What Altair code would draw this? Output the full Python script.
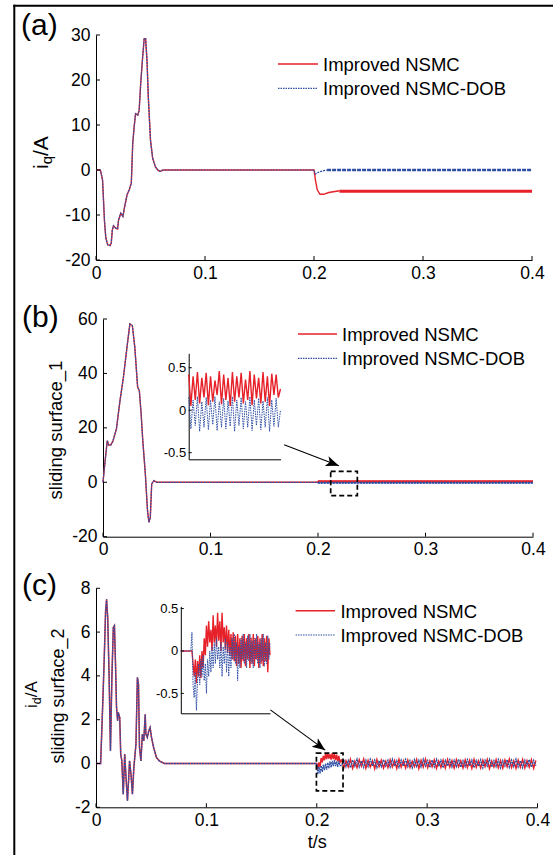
import altair as alt
import pandas as pd

W, H = 553, 855
RED = "#e62129"
BLUE = "#2f4fa5"
FONT = "Liberation Sans"

# ---------------- tick values / labels ----------------
X_TICKS = [0, 0.1, 0.2, 0.3, 0.4]
A_Y_TICKS = [-20, -10, 0, 10, 20, 30]
B_Y_TICKS = [-20, 0, 20, 40, 60]
C_Y_TICKS = [-2, 0, 2, 4, 6, 8]
INSET_TICKS = [-0.5, 0, 0.5]
LEGEND_LABELS = ["Improved NSMC", "Improved NSMC-DOB"]
PANEL_LABELS = ["(a)", "(b)", "(c)"]
X_TITLE = "t/s"
B_Y_TITLE = "sliding surface_1"
C_Y_TITLE = "sliding surface_2"

# ---------------- panel (a): i_q ----------------
A_T = [0, 0.004, 0.006, 0.0078, 0.009, 0.0107, 0.013, 0.014, 0.015, 0.016,
       0.018, 0.0198, 0.0207, 0.0227, 0.0247, 0.026, 0.0285, 0.0305, 0.0324, 0.0337,
       0.035, 0.0363, 0.0383, 0.0396, 0.041, 0.0428, 0.0442, 0.0455, 0.0468, 0.048,
       0.05, 0.052, 0.0545, 0.057, 0.059, 0.0615, 0.2]
A_V = [0, 0, -2.2, -11.4, -15.1, -16.6, -16.8, -16.2, -13.3, -12.4,
       -12.9, -13.1, -11.1, -9.6, -10.3, -8.5, -5.5, -4.4, -2.9, 5.9,
       9.6, 12.5, 12.2, 13.3, 19.2, 25.1, 29.2, 29.2, 24.3, 16.2,
       6.6, 2.6, 0.7, -0.1, -0.3, 0, 0]
A_RED_POST_T = [0.2, 0.2013, 0.203, 0.2055, 0.2087, 0.2136, 0.2233]
A_RED_POST_V = [0, -2.2, -4.4, -5.4, -5.4, -5.0, -4.6]
A_RED_STEADY_T = [0.2233, 0.4]
A_RED_STEADY_V = [-4.7, -4.7]
A_BLUE_POST_T = [0.2, 0.2013, 0.204, 0.208, 0.212]
A_BLUE_POST_V = [0, -0.9, -0.5, -0.2, 0]
A_BLUE_STEADY_T = [0.212, 0.4]
A_BLUE_STEADY_V = [0, 0]

# ---------------- panel (b): sliding surface 1 ----------------
B_T = [0, 0.002, 0.004, 0.0053, 0.0072, 0.0092, 0.0125, 0.0158, 0.019, 0.0223,
       0.025, 0.0273, 0.0296, 0.0322, 0.0338, 0.0355, 0.037, 0.0394, 0.0414, 0.0427,
       0.044, 0.0453, 0.0473, 0.05, 0.2]
B_V = [0, 8, 15.3, 13.7, 13.7, 15.1, 19.6, 30, 38.6, 49.6,
       58.2, 57.6, 49.6, 35, 33.7, 25, 15.3, 3, -10.4, -14.7,
       -12.9, -0.6, 0.6, 0, 0]
B_RED_POST_T = [0.2, 0.4]
B_RED_POST_V = [0.3, 0.3]
B_BLUE_POST_T = [0.2, 0.4]
B_BLUE_POST_V = [-0.2, -0.2]
B_BOX = dict(t=[0.2118], t2=[0.2366], v=[-4.9], v2=[4.0])
B_ARROW = dict(t=[0.1685], v=[13.75], t2=[0.2194], v2=[6.1])
B_INSET_RED = [0.42, 0.05, 0.40, 0.12, 0.45, 0.08, 0.38, 0.15, 0.44, 0.06,
               0.40, 0.10, 0.35, 0.18, 0.46, 0.07, 0.42, 0.12, 0.38, 0.05,
               0.45, 0.10, 0.40, 0.15, 0.44, 0.08, 0.36, 0.12, 0.46, 0.06,
               0.42, 0.14, 0.38, 0.08, 0.45, 0.10, 0.40, 0.05, 0.43, 0.18,
               0.42, 0.15, 0.25]
B_INSET_BLUE = [0.15, -0.22, 0.12, -0.18, 0.16, -0.25, 0.10, -0.20, 0.15, -0.23,
                0.12, -0.17, 0.16, -0.24, 0.10, -0.20, 0.14, -0.22, 0.11, -0.19,
                0.16, -0.25, 0.12, -0.18, 0.15, -0.22, 0.10, -0.20, 0.16, -0.24,
                0.12, -0.18, 0.14, -0.23, 0.11, -0.20, 0.15, -0.25, 0.12, -0.19,
                0.14, -0.20, 0.0]

# ---------------- panel (c): i_d / sliding surface 2 ----------------
C_T = [0, 0.0042, 0.0061, 0.0074, 0.0087, 0.0096, 0.0106, 0.0119, 0.0131, 0.0144,
       0.0157, 0.0167, 0.0176, 0.0186, 0.0196, 0.0202, 0.0215, 0.0224, 0.0234, 0.0247,
       0.026, 0.0272, 0.0285, 0.0295, 0.0304, 0.0317, 0.033, 0.0343, 0.0362, 0.0375,
       0.0385, 0.0394, 0.0407, 0.042, 0.0433, 0.0446, 0.0452, 0.0465, 0.0478, 0.049,
       0.0503, 0.0522, 0.0548, 0.0574, 0.0619, 0.2]
C_V = [0, 0, 2.71, 4.69, 6.97, 7.5, 6.67, 3.93, 0.58, 3.93,
       6.21, 6.29, 4.69, 2.56, 1.95, 2.33, 2.1, 0.43, 0.12, -1.4,
       0.43, -0.64, -1.7, -0.79, 0.12, -0.49, -1.4, -0.18, 0.88, 3.93,
       3.62, 0.73, 0.12, 1.34, 1.03, 2.25, 1.34, 1.19, 1.49, 1.64,
       1.19, 0.73, 0.27, 0.12, 0, 0]
C_TR_T = [0.200, 0.201, 0.202, 0.203, 0.204, 0.205, 0.206, 0.207, 0.208, 0.209,
          0.210, 0.211, 0.212, 0.213, 0.214, 0.215, 0.216, 0.217, 0.218, 0.219,
          0.220, 0.221, 0.222]
C_TR_RED = [0, -0.25, 0.05, -0.15, 0.25, 0.05, 0.35, 0.15, 0.45, 0.2,
            0.48, 0.22, 0.42, 0.18, 0.47, 0.2, 0.44, 0.15, 0.4, 0.1,
            0.35, 0.05, 0.15]
C_TR_BLUE = [0, -0.5, -0.15, -0.45, -0.1, -0.38, -0.05, -0.3, 0.0, -0.28,
             0.05, -0.22, 0.1, -0.18, 0.12, -0.12, 0.15, -0.12, 0.1, -0.15,
             0.12, -0.1, -0.1]
C_CH_T = [round(0.2225 + 0.002 * i, 4) for i in range(89)]
C_CH_RED = [0.16, -0.2, 0.12, -0.15, 0.19, -0.22, 0.1, -0.18, 0.17, -0.12,
            0.2, -0.21, 0.14, -0.16, 0.12, -0.23, 0.18, -0.14, 0.15, -0.2,
            0.1, -0.18, 0.17, -0.15, 0.13, -0.22, 0.19, -0.16, 0.12, -0.2,
            0.15, -0.18, 0.1, -0.14, 0.18, -0.23, 0.14, -0.16, 0.2, -0.19,
            0.12, -0.15, 0.16, -0.22, 0.11, -0.18, 0.15, -0.2, 0.18, -0.16,
            0.13, -0.21, 0.17, -0.15, 0.12, -0.2, 0.16, -0.18, 0.14, -0.22,
            0.19, -0.17, 0.12, -0.2, 0.15, -0.14, 0.18, -0.23, 0.11, -0.16,
            0.17, -0.19, 0.13, -0.21, 0.16, -0.15, 0.2, -0.18, 0.12, -0.22,
            0.15, -0.17, 0.18, -0.2, 0.13, -0.16, 0.17, -0.21, 0.14]
C_CH_BLUE = [-0.1, 0.18, -0.15, 0.14, -0.2, 0.16, -0.12, 0.2, -0.16, 0.12,
             -0.18, 0.15, -0.14, 0.2, -0.12, 0.16, -0.19, 0.13, -0.15, 0.18,
             -0.12, 0.15, -0.17, 0.2, -0.13, 0.14, -0.18, 0.16, -0.12, 0.19,
             -0.15, 0.13, -0.2, 0.17, -0.14, 0.15, -0.16, 0.2, -0.12, 0.14,
             -0.18, 0.16, -0.15, 0.19, -0.13, 0.15, -0.2, 0.14, -0.12, 0.18,
             -0.16, 0.15, -0.14, 0.2, -0.17, 0.13, -0.15, 0.18, -0.12, 0.16,
             -0.19, 0.14, -0.13, 0.17, -0.2, 0.15, -0.12, 0.19, -0.16, 0.13,
             -0.15, 0.18, -0.2, 0.14, -0.12, 0.17, -0.18, 0.15, -0.14, 0.2,
             -0.16, 0.13, -0.19, 0.15, -0.12, 0.18, -0.17, 0.14, -0.1]
C_BOX = dict(t=[0.1997], t2=[0.2238], v=[-1.25], v2=[0.47])
C_ARROW = dict(t=[0.158], v=[2.45], t2=[0.2077], v2=[0.61])
C_INSET_RED = [0, 0, 0, 0, 0, 0, 0, 0, 0, 0,
               0, -0.15, -0.3, -0.1, -0.38, -0.12, -0.3, -0.05, -0.32, 0.0,
               -0.2, 0.15, -0.05, 0.3, 0.05, 0.35, 0.1, 0.25, 0.0, 0.42,
               0.1, 0.3, 0.05, 0.45, 0.12, 0.35, 0.0, 0.45, 0.1, 0.28,
               0.02, 0.3, -0.02, 0.25, -0.05, 0.2, -0.1, 0.22, -0.12, 0.18,
               -0.18, 0.2, -0.15, 0.15, -0.2, 0.18, -0.12, 0.2, -0.18, 0.15,
               -0.1, 0.2, -0.2, 0.16, -0.15, 0.2, -0.18, 0.15, -0.1, 0.18,
               -0.2, 0.15, -0.15, 0.2, -0.18, 0.15, -0.12, 0.18, -0.25, 0.15,
               -0.05]
C_INSET_BLUE = [0, 0, 0, 0, 0, 0, 0, 0, 0, 0,
                0.22, -0.4, -0.55, -0.25, -0.7, -0.35, -0.15, -0.4, -0.1, -0.3,
                -0.05, -0.35, -0.15, -0.5, -0.1, -0.3, 0.0, -0.25, 0.05, -0.2,
                0.1, -0.15, 0.15, -0.1, 0.05, -0.2, 0.1, -0.3, 0.05, -0.15,
                0.15, -0.25, 0.1, -0.3, 0.05, -0.2, 0.15, -0.1, 0.2, -0.15,
                0.1, -0.35, 0.05, -0.2, 0.15, -0.1, 0.2, -0.15, 0.1, -0.2,
                0.18, -0.12, 0.2, -0.15, 0.12, -0.2, 0.15, -0.1, 0.2, -0.15,
                0.1, -0.2, 0.15, -0.12, 0.2, -0.18, 0.1, -0.15, 0.18, -0.1,
                0.1]

# ---------------- layout (pixels) ----------------
GA = dict(x0=96, x1=532, yb=260, yt=35)
GB = dict(x0=103, x1=533, yb=536.7, yt=319)
GC = dict(x0=96, x1=537.5, yb=807.3, yt=588.3)
IB = dict(x0=188.7, x1=280.5, yb=459.3, yt=353.3, ydom=[-0.578, 0.67], n=len(B_INSET_RED) - 1)
IC = dict(x0=180.8, x1=270, yb=713.3, yt=606.3, ydom=[-0.735, 0.527], n=len(C_INSET_RED) - 1)

LABEL_EXPR = "replace(format(datum.value, '~g'), '\u2212', '-')"
TICK_FS = 17.5
LEGEND_FS = 18.5


def panel_enc(geo, ydom, yticks, xtitle=""):
    xs = alt.Scale(domain=[0, 0.4], range=[geo["x0"], geo["x1"]], nice=False, zero=False)
    ys = alt.Scale(domain=ydom, range=[geo["yb"], geo["yt"]], nice=False, zero=False)
    xa = alt.Axis(orient="bottom", offset=geo["yb"] - H, values=X_TICKS, ticks=False, grid=False,
                  labelFlush=False, labelOverlap=False, labelExpr=LABEL_EXPR, labelFont=FONT,
                  labelFontSize=TICK_FS, labelColor="black", labelPadding=4, domainColor="black",
                  domainWidth=1, title=xtitle, titleFont=FONT, titleFontSize=18,
                  titleFontWeight="normal", titleColor="black", titlePadding=5)
    ya = alt.Axis(orient="left", offset=-geo["x0"], values=yticks, ticks=False, grid=False,
                  labelFlush=False, labelOverlap=False, labelExpr=LABEL_EXPR, labelFont=FONT,
                  labelFontSize=TICK_FS, labelColor="black", labelPadding=6, domainColor="black",
                  domainWidth=1, title="")

    def X(f="t"):
        return alt.X(f + ":Q", scale=xs, axis=xa)

    def Y(f="v"):
        return alt.Y(f + ":Q", scale=ys, axis=ya)
    return X, Y


def inset_enc(geo):
    xs = alt.Scale(domain=[0, geo["n"]], range=[geo["x0"], geo["x1"]], nice=False, zero=False)
    ys = alt.Scale(domain=geo["ydom"], range=[geo["yb"], geo["yt"]], nice=False, zero=False)
    xa = alt.Axis(orient="bottom", offset=geo["yb"] - H, labels=False, ticks=False, grid=False,
                  domainColor="black", domainWidth=1, title="")
    ya = alt.Axis(orient="left", offset=-geo["x0"], values=INSET_TICKS, ticks=False, grid=False,
                  labelFlush=False, labelOverlap=False, labelExpr=LABEL_EXPR, labelFont=FONT,
                  labelFontSize=13, labelColor="black", labelPadding=3, domainColor="black",
                  domainWidth=1, title="")
    return (lambda f="i": alt.X(f + ":Q", scale=xs, axis=xa)), (lambda f="v": alt.Y(f + ":Q", scale=ys, axis=ya))


def line(X, Y, t, v, color, width, dash=None, tf="t"):
    kw = dict(color=color, strokeWidth=width, strokeCap="butt")
    if dash:
        kw["strokeDash"] = dash
    d = pd.DataFrame({tf: t, "v": v})
    return alt.Chart(d).mark_line(**kw).encode(x=X(tf), y=Y("v"))


def yticks_layer(Y, vals, x0, ln=4):
    return alt.Chart(pd.DataFrame({"v": vals})).mark_rule(color="black", strokeWidth=1).encode(
        y=Y("v"), x=alt.value(x0), x2=alt.value(x0 + ln))


def xticks_layer(X, vals, yb, ln=4):
    return alt.Chart(pd.DataFrame({"t": vals})).mark_rule(color="black", strokeWidth=1).encode(
        x=X("t"), y=alt.value(yb), y2=alt.value(yb - ln))


def box_layer(X, Y, box):
    return alt.Chart(pd.DataFrame(box)).mark_rect(fillOpacity=0, stroke="black", strokeWidth=1.7,
                                                  strokeDash=[5, 3]).encode(
        x=X("t"), x2=alt.X2("t2"), y=Y("v"), y2=alt.Y2("v2"))


def arrow_layers(X, Y, arr, angle):
    d = pd.DataFrame(arr)
    shaft = alt.Chart(d).mark_rule(color="black", strokeWidth=1.1).encode(
        x=X("t"), x2=alt.X2("t2"), y=Y("v"), y2=alt.Y2("v2"))
    head = alt.Chart(d).mark_point(shape="M0,0L-2,-0.8L-1.5,0L-2,0.8Z", filled=True, color="black",
                                   opacity=1, size=170, angle=angle).encode(x=X("t2"), y=Y("v2"))
    return [shaft, head]


# ---------------- panel (a) ----------------
XA, YA = panel_enc(GA, [-20, 30], A_Y_TICKS)
panel_a = alt.layer(
    line(XA, YA, A_T + A_RED_POST_T, A_V + A_RED_POST_V, RED, 1.4),
    line(XA, YA, A_RED_STEADY_T, A_RED_STEADY_V, RED, 3),
    line(XA, YA, A_T + A_BLUE_POST_T, A_V + A_BLUE_POST_V, BLUE, 1.2, [2, 1]),
    line(XA, YA, A_BLUE_STEADY_T, A_BLUE_STEADY_V, BLUE, 2.6, [4, 1]),
    yticks_layer(YA, A_Y_TICKS, GA["x0"]),
    xticks_layer(XA, X_TICKS, GA["yb"]),
)

# ---------------- panel (b) ----------------
XB, YB = panel_enc(GB, [-20, 60], B_Y_TICKS)
main_b = alt.layer(
    line(XB, YB, B_T + B_RED_POST_T, B_V + B_RED_POST_V, RED, 1.4),
    line(XB, YB, B_RED_POST_T, B_RED_POST_V, RED, 2.4),
    line(XB, YB, B_T + B_BLUE_POST_T, B_V + B_BLUE_POST_V, BLUE, 1.2, [2, 1]),
    line(XB, YB, B_BLUE_POST_T, B_BLUE_POST_V, BLUE, 2, [2, 1]),
    box_layer(XB, YB, B_BOX),
    *arrow_layers(XB, YB, B_ARROW, 20.8),
    yticks_layer(YB, B_Y_TICKS, GB["x0"]),
    xticks_layer(XB, X_TICKS, GB["yb"]),
)
XIB, YIB = inset_enc(IB)
idx_b = list(range(len(B_INSET_RED)))
inset_b = alt.layer(
    line(XIB, YIB, idx_b, B_INSET_RED, RED, 1.4, tf="i"),
    line(XIB, YIB, idx_b, B_INSET_BLUE, BLUE, 1.0, [1.5, 1], tf="i"),
    yticks_layer(YIB, INSET_TICKS, IB["x0"], 3),
)
panel_b = alt.layer(main_b, inset_b).resolve_scale(x="independent", y="independent")

# ---------------- panel (c) ----------------
XC, YC = panel_enc(GC, [-2, 8], C_Y_TICKS, X_TITLE)
main_c = alt.layer(
    line(XC, YC, C_T + C_TR_T + C_CH_T, C_V + C_TR_RED + C_CH_RED, RED, 1.5),
    line(XC, YC, C_T + C_TR_T + C_CH_T, C_V + C_TR_BLUE + C_CH_BLUE, BLUE, 1.3, [2, 0.8]),
    box_layer(XC, YC, C_BOX),
    *arrow_layers(XC, YC, C_ARROW, 36.3),
    yticks_layer(YC, C_Y_TICKS, GC["x0"]),
    xticks_layer(XC, X_TICKS, GC["yb"]),
)
XIC, YIC = inset_enc(IC)
idx_c = list(range(len(C_INSET_RED)))
inset_c = alt.layer(
    line(XIC, YIC, idx_c, C_INSET_RED, RED, 1.4, tf="i"),
    line(XIC, YIC, idx_c, C_INSET_BLUE, BLUE, 1.0, [1.5, 1], tf="i"),
    yticks_layer(YIC, INSET_TICKS, IC["x0"], 3),
)
panel_c = alt.layer(main_c, inset_c).resolve_scale(x="independent", y="independent")


# ---------------- decorations: frame, labels, legends ----------------
def text_at(s, x, y, size, angle=0, align="left", baseline="alphabetic"):
    kw = dict(font=FONT, fontSize=size, color="black", align=align, baseline=baseline)
    if angle:
        kw["angle"] = angle
    return alt.Chart(pd.DataFrame({"s": [s]})).mark_text(**kw).encode(
        text="s:N", x=alt.value(x), y=alt.value(y))


def hrule(x1, x2, y, color, width, dash=None):
    kw = dict(color=color, strokeWidth=width)
    if dash:
        kw["strokeDash"] = dash
    return alt.Chart(pd.DataFrame({"k": [0]})).mark_rule(**kw).encode(
        x=alt.value(x1), x2=alt.value(x2), y=alt.value(y))


def vrule(x, y1, y2, color, width):
    return alt.Chart(pd.DataFrame({"k": [0]})).mark_rule(color=color, strokeWidth=width).encode(
        x=alt.value(x), y=alt.value(y1), y2=alt.value(y2))


def legend(x1, x2, y, xt, gap=24.3):
    return [
        hrule(x1, x2, y, RED, 1.4),
        hrule(x1, x2, y + gap, BLUE, 1.2, [1.5, 1]),
        text_at(LEGEND_LABELS[0], xt, y + 1, LEGEND_FS, baseline="middle"),
        text_at(LEGEND_LABELS[1], xt, y + gap + 1, LEGEND_FS, baseline="middle"),
    ]


deco = [
    vrule(14.3, 4.7, H, "black", 2),
    hrule(13.3, W, 5.7, "black", 2),
    text_at(PANEL_LABELS[0], 21, 35, 30),
    text_at(PANEL_LABELS[1], 22, 327, 30),
    text_at(PANEL_LABELS[2], 22, 595, 30),
    # i_q/A
    text_at("i", 47.5, 169, 21, angle=270),
    text_at("q", 52, 164.3, 15, angle=270),
    text_at("/A", 47.5, 156, 21, angle=270),
    # sliding surface_1
    text_at(B_Y_TITLE, 62, 430, 18.5, angle=270, align="center"),
    # i_d/A and sliding surface_2
    text_at("i", 37, 708, 17, angle=270),
    text_at("d", 40.8, 704.2, 12.5, angle=270),
    text_at("/A", 37, 697.3, 17, angle=270),
    text_at(C_Y_TITLE, 64, 696, 18, angle=270, align="center"),
    *legend(278, 318, 64, 323),
    *legend(298, 337, 334, 342),
    *legend(295.6, 335, 610.7, 340.4),
]

chart = alt.layer(panel_a, panel_b, panel_c, *deco).resolve_scale(
    x="independent", y="independent"
).properties(
    width=W, height=H, autosize=alt.AutoSizeParams(type="none"), padding=0, background="white"
).configure_view(strokeWidth=0)

chart.save("out.html", embed_options={"renderer": "svg", "actions": False})
